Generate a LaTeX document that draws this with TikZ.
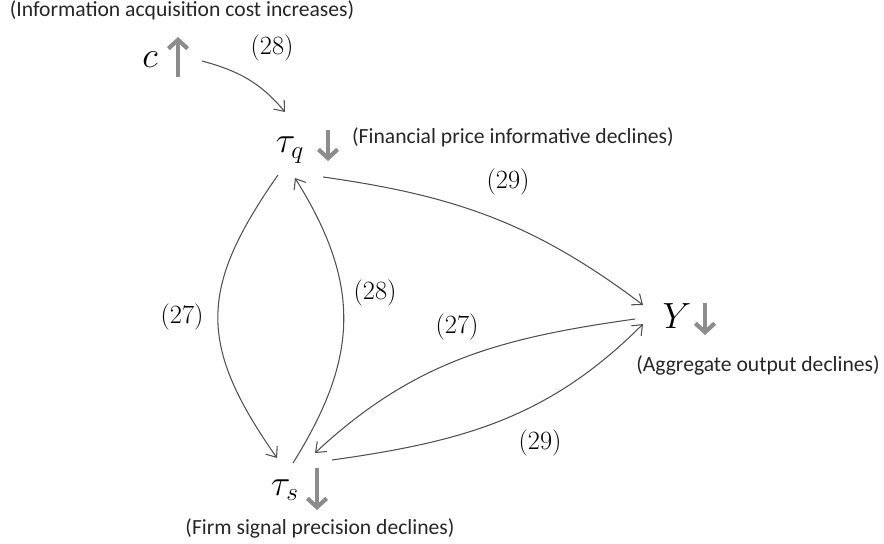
\documentclass[tikz,border=0pt]{standalone}
\usepackage{fontspec}
\setsansfont{Carlito}
\usetikzlibrary{arrows,arrows.meta,positioning}
\definecolor{linegray}{RGB}{80,80,80}
\definecolor{arrgray}{RGB}{140,140,140}
\tikzset{>={Straight Barb[length=5pt,width=8pt]},auto}
\tikzset{var/.style={inner sep=1pt,font=\fontsize{22}{26}\selectfont}}
\tikzset{note/.style={font=\sffamily\fontsize{12.3}{14}\selectfont,text=black!85}}
\tikzset{eqn/.style={font=\fontsize{15}{18}\selectfont}}
\tikzset{chg/.style={arrgray,line width=2.4pt,-{Straight Barb[length=5pt,width=11pt]}}}
\tikzset{link/.style={linegray,line width=0.6pt}}

\begin{document}
\begin{tikzpicture}
    \useasboundingbox (0,0) rectangle (17.68,-10.86);
    % variables
    \node[var] (c)  at (3.0,-1.2)    {$c$};
    \node[var] (tq) at (5.8,-3.0)    {$\tau_q$};
    \node[var] (ts) at (5.7,-9.8)    {$\tau_s$};
    \node[var] (y)  at (13.54,-6.32) {$Y$};
    % up and down marks
    \draw[chg] ([shift={(0.56,-0.34)}]c.center) -- ++(0,0.8);
    \draw[chg] ([shift={(0.76,0.4)}]tq.center) -- ++(0,-0.62);
    \draw[chg] ([shift={(0.64,0.44)}]ts.center) -- ++(0,-0.84);
    \draw[chg] ([shift={(0.56,0.26)}]y.center) -- ++(0,-0.64);
    % notes
    \node[note] (cnote)  at (3.64,-0.2)  {(Information acquisition cost increases)};
    \node[note] (tqnote) at (10.26,-2.74) {(Financial price informative declines)};
    \node[note] (ynote)  at (15.16,-7.3) {(Aggregate output declines)};
    \node[note] (tsnote) at (6.4,-10.56) {(Firm signal precision declines)};
    % equation numbers
    \node[eqn] (e28a) at (5.44,-0.96) {(28)};
    \node[eqn] (e29a) at (10.16,-3.64) {(29)};
    \node[eqn] (e27a) at (3.64,-6.34) {(27)};
    \node[eqn] (e28b) at (7.5,-5.86) {(28)};
    \node[eqn] (e27b) at (9.14,-6.54) {(27)};
    \node[eqn] (e29b) at (10.8,-8.86) {(29)};
    \path[->,link]
        ([shift={(1.04,-0.02)}]c.center)  edge [out=-15,in=130] ([shift={(-0.1,0.76)}]tq.center)
        ([shift={(-0.24,-0.5)}]tq.center) edge [out=-125,in=125,looseness=1.25] ([shift={(-0.16,0.64)}]ts.center)
        ([shift={(0.16,0.54)}]ts.center)  edge [out=58,in=-58,looseness=1.12] ([shift={(0.1,-0.56)}]tq.center)
        ([shift={(0.66,-0.54)}]tq.center) edge [out=-8,in=143] ([shift={(-0.68,0.22)}]y.center)
        ([shift={(-0.84,-0.06)}]y.center) edge [out=-172,in=43] ([shift={(0.6,0.74)}]ts.center)
        ([shift={(0.94,0.6)}]ts.center)   edge [out=8,in=-135] ([shift={(-0.68,-0.16)}]y.center)
    ;
\end{tikzpicture}
\end{document}
